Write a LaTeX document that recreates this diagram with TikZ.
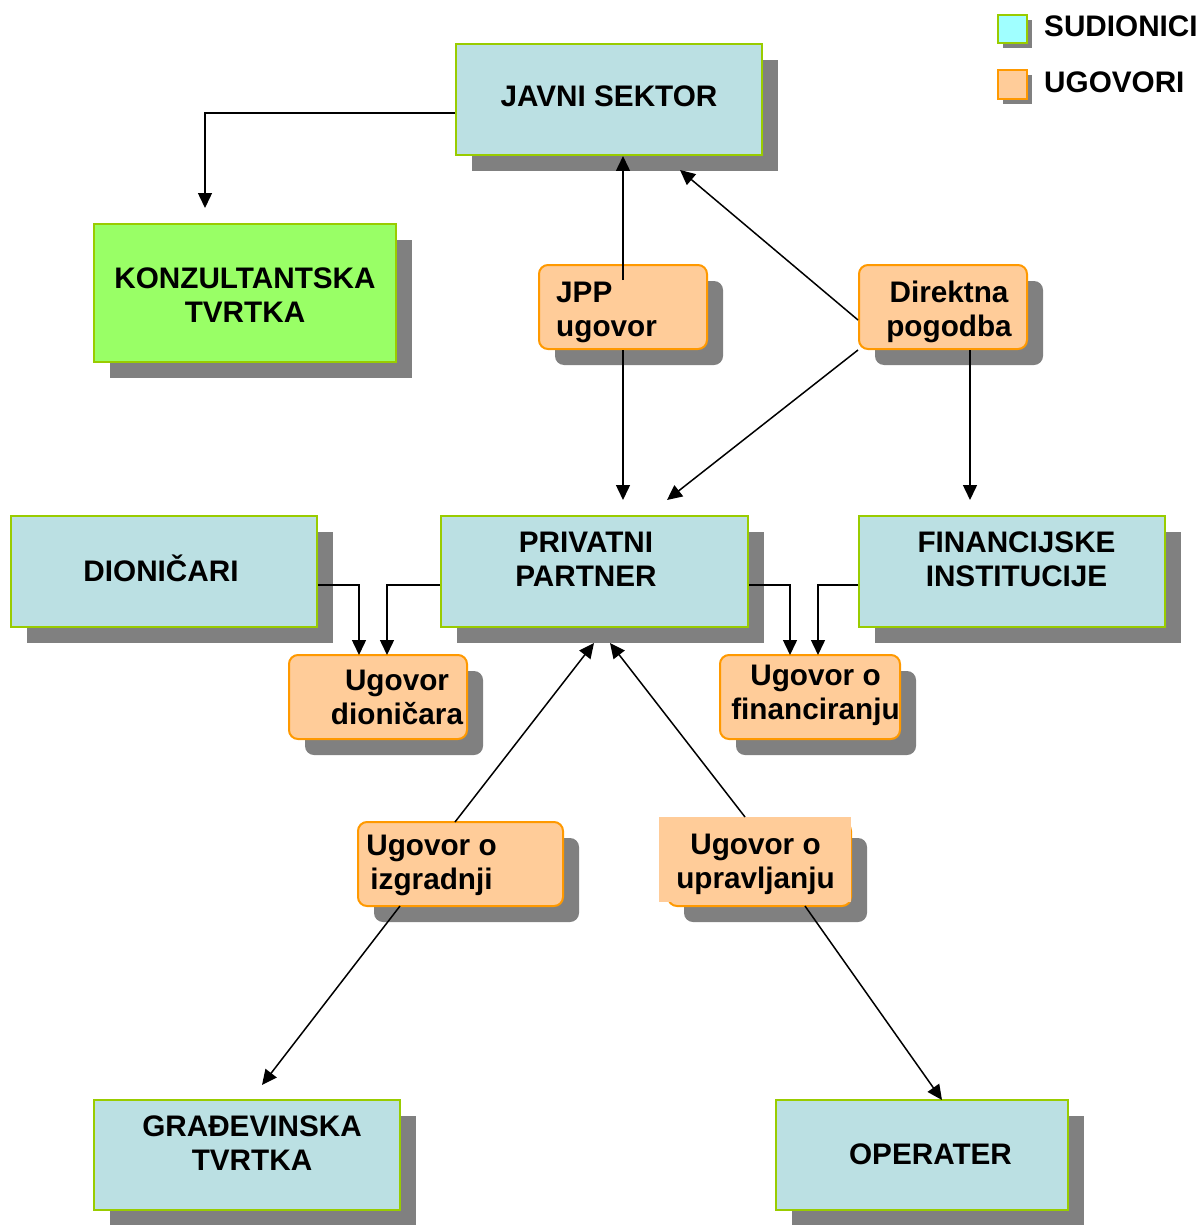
\documentclass[tikz,border=0pt]{standalone}
\usepackage{fontspec}
\setmainfont{Liberation Sans}
\usetikzlibrary{arrows.meta,shadows}
\definecolor{partfill}{HTML}{BBE0E3}
\definecolor{partline}{HTML}{99CC00}
\definecolor{konzfill}{HTML}{99FF66}
\definecolor{ugfill}{HTML}{FFCC99}
\definecolor{ugline}{HTML}{FF9900}
\definecolor{shadowgray}{HTML}{808080}
\definecolor{legcyan}{HTML}{A0FFFF}
\newcommand{\mylines}[2]{\begin{tabular}[t]{@{}#1@{}}#2\end{tabular}}
\begin{document}
\begin{tikzpicture}[x=1pt,y=-1pt,
  every node/.style={font=\fontsize{29.7}{34}\selectfont\bfseries},
  shad/.style={drop shadow={shadow xshift=16pt,shadow yshift=-16pt,fill=shadowgray,opacity=1}},
  lshad/.style={drop shadow={shadow xshift=5pt,shadow yshift=-5pt,fill=shadowgray,opacity=1}},
  part/.style={draw=partline,line width=2pt,fill=partfill,shad,inner sep=0pt},
  ugbox/.style={draw=ugline,line width=2pt,fill=ugfill,rounded corners=9pt,shad,inner sep=0pt},
  lbl/.style={anchor=base,inner sep=0pt},
  arr/.style={line width=1.5pt,-{Triangle[length=15pt,width=14pt]}}
]
\useasboundingbox (0,0) rectangle (1198,1225);

% participants
\node[part,minimum width=306pt,minimum height=111pt] (js) at (609,99.5) {};
\node[lbl] (jst) at (609,107) {JAVNI SEKTOR};

\node[part,fill=konzfill,minimum width=302pt,minimum height=138pt] (konz) at (245,293) {};
\node[lbl] (konzt) at (245,288) {\mylines{c}{KONZULTANTSKA\\TVRTKA}};

\node[part,minimum width=307pt,minimum height=111pt] (pp) at (594.5,571.5) {};
\node[lbl] (ppt) at (586,552) {\mylines{c}{PRIVATNI\\PARTNER}};

\node[part,minimum width=306pt,minimum height=111pt] (dio) at (164,571.5) {};
\node[lbl] (diot) at (161,581) {DIONIČARI};

\node[part,minimum width=306pt,minimum height=111pt] (fi) at (1012,571.5) {};
\node[lbl] (fit) at (1016.5,552) {\mylines{c}{FINANCIJSKE\\INSTITUCIJE}};

\node[part,minimum width=306pt,minimum height=110pt] (gt) at (247,1155) {};
\node[lbl] (gtt) at (252,1136) {\mylines{c}{GRAĐEVINSKA\\TVRTKA}};

\node[part,minimum width=292pt,minimum height=110pt] (op) at (922,1155) {};
\node[lbl] (opt) at (930.5,1164) {OPERATER};

% contracts
\node[ugbox,minimum width=168pt,minimum height=84pt] (jpp) at (623,307) {};
\node[lbl,anchor=base west] (jppt) at (556,302) {\mylines{l}{JPP\\ugovor}};

\node[ugbox,minimum width=168pt,minimum height=84pt] (dp) at (943,307) {};
\node[lbl] (dpt) at (949,302) {\mylines{c}{Direktna\\pogodba}};

\node[ugbox,minimum width=178pt,minimum height=84pt] (ud) at (378,697) {};
\node[lbl] (udt) at (397,690) {\mylines{c}{Ugovor\\dioničara}};

\node[ugbox,minimum width=180pt,minimum height=84pt] (uf) at (810,697) {};
\node[lbl] (uft) at (815.5,685) {\mylines{c}{Ugovor o\\financiranju}};

\node[ugbox,minimum width=205pt,minimum height=84pt] (ui) at (460.5,864) {};
\node[lbl] (uit) at (431.5,855) {\mylines{c}{Ugovor o\\izgradnji}};

\node[ugbox,minimum width=183pt,minimum height=84pt] (uu) at (759.5,864) {};
\node[fill=ugfill,inner sep=0pt,minimum width=192pt,minimum height=85pt] (uuo) at (755,859.5) {};
\node[lbl] (uut) at (755.5,854) {\mylines{c}{Ugovor o\\upravljanju}};

% legend
\node[draw=partline,line width=2pt,fill=legcyan,minimum width=29pt,minimum height=28pt,inner sep=0pt,lshad] (l1) at (1012.5,29) {};
\node[lbl,anchor=base west] (l1t) at (1044,37) {SUDIONICI};
\node[draw=ugline,line width=2pt,fill=ugfill,minimum width=29pt,minimum height=29pt,inner sep=0pt,lshad] (l2) at (1012.5,84.5) {};
\node[lbl,anchor=base west] (l2t) at (1044,92.5) {UGOVORI};

% connector end points
\coordinate (k1) at (205,208);
\coordinate (jppTop) at (623,280);
\coordinate (pp1) at (623,500);
\coordinate (js2) at (680,170);
\coordinate (pp2) at (667,500);
\coordinate (fi1) at (970,500);
\coordinate (ud1) at (359,655);
\coordinate (ud2) at (387,655);
\coordinate (uf1) at (790,655);
\coordinate (uf2) at (818,655);
\coordinate (ui1) at (455,822);
\coordinate (pp3) at (594,643);
\coordinate (ui2) at (400,906);
\coordinate (gt1) at (262,1085);
\coordinate (uu1) at (745,817);
\coordinate (pp4) at (610,643);
\coordinate (uu2) at (805,906);
\coordinate (op1) at (942,1100);

% connectors
\draw[arr] ([yshift=-13.5pt]js.west) -| (k1);
\draw[arr] (jppTop) -- (jppTop |- js.south);
\draw[arr] (pp1 |- jpp.south) -- (pp1);
\draw[arr] ([yshift=-13pt]dp.west) -- (js2);
\draw[arr] (dp.south west) -- (pp2);
\draw[arr] (fi1 |- dp.south) -- (fi1);
\draw[arr] ([yshift=-13.5pt]dio.east) -| (ud1);
\draw[arr] ([yshift=-13.5pt]pp.west) -| (ud2);
\draw[arr] ([yshift=-13.5pt]pp.east) -| (uf1);
\draw[arr] ([yshift=-13.5pt]fi.west) -| (uf2);
\draw[arr] (ui1) -- (pp3);
\draw[arr] (ui2) -- (gt1);
\draw[arr] (uu1) -- (pp4);
\draw[arr] (uu2) -- (op1);
\end{tikzpicture}
\end{document}
